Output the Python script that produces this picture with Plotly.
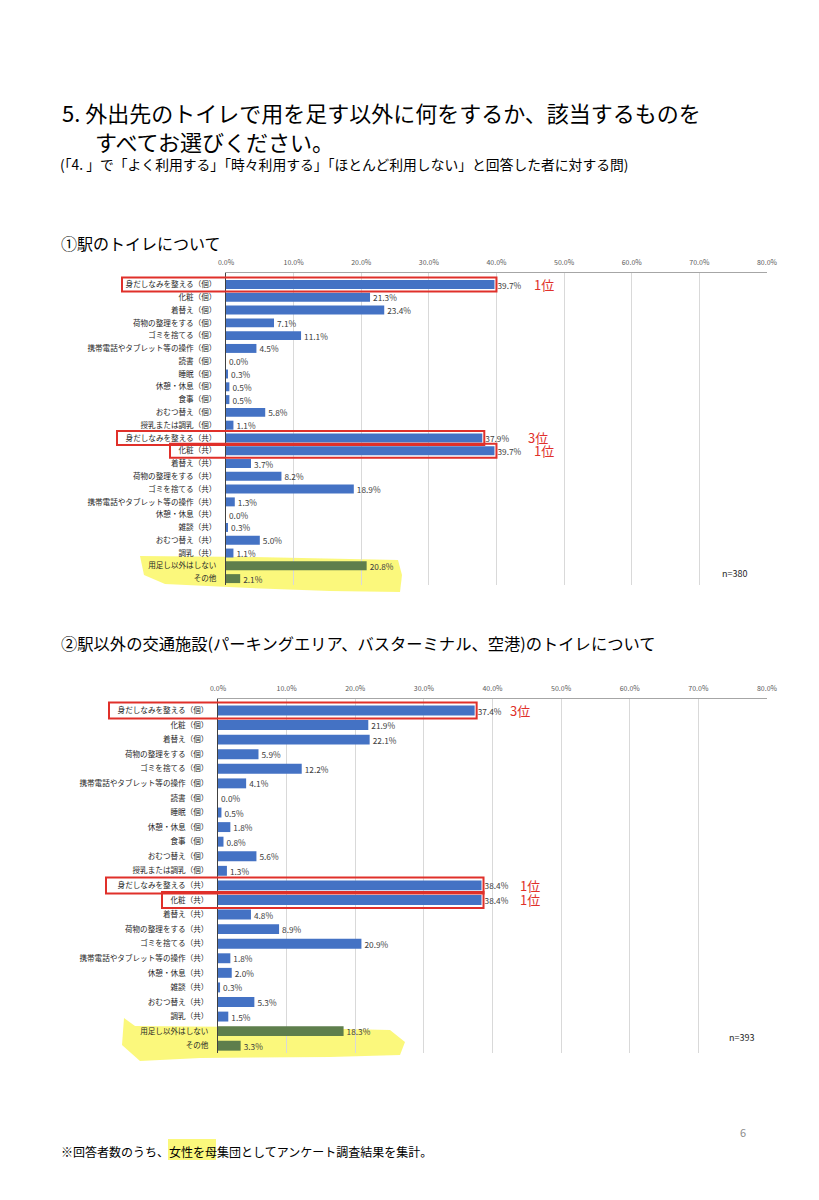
import plotly.graph_objects as go

# page is 819x1200; the page body has an 8px margin, so the figure is 803x1184
PAGE_OFF = 8
W, H = 803, 1184

# ---------------- data ----------------
cats1 = ["身だしなみを整える（個）", "化粧（個）", "着替え（個）", "荷物の整理をする（個）", "ゴミを捨てる（個）",
         "携帯電話やタブレット等の操作（個）", "読書（個）", "睡眠（個）", "休憩・休息（個）", "食事（個）",
         "おむつ替え（個）", "授乳または調乳（個）", "身だしなみを整える（共）", "化粧（共）", "着替え（共）",
         "荷物の整理をする（共）", "ゴミを捨てる（共）", "携帯電話やタブレット等の操作（共）", "休憩・休息（共）",
         "雑談（共）", "おむつ替え（共）", "調乳（共）", "用足し以外はしない", "その他"]
vals1 = [39.7, 21.3, 23.4, 7.1, 11.1, 4.5, 0.0, 0.3, 0.5, 0.5, 5.8, 1.1,
         37.9, 39.7, 3.7, 8.2, 18.9, 1.3, 0.0, 0.3, 5.0, 1.1, 20.8, 2.1]

cats2 = list(cats1)
vals2 = [37.4, 21.9, 22.1, 5.9, 12.2, 4.1, 0.0, 0.5, 1.8, 0.8, 5.6, 1.3,
         38.4, 38.4, 4.8, 8.9, 20.9, 1.8, 2.0, 0.3, 5.3, 1.5, 18.3, 3.3]

ranks1 = {0: "1位", 12: "3位", 13: "1位"}
ranks2 = {0: "3位", 12: "1位", 13: "1位"}
n1, n2 = "n=380", "n=393"
highlight_idx = [22, 23]

# ---------------- styles ----------------
BLUE = "#4472C4"
GREEN = "#5E7E4C"
RED = "#E0302A"
FONT = "Noto Sans CJK JP"

def PX(x):
    return (x - PAGE_OFF) / W

def PY(y):
    return 1 - (y - PAGE_OFF) / H

# chart geometry (page pixels)
c1 = dict(x0=226, x1=767, y0=273, y1=585)
c2 = dict(x0=218, x1=767, y0=699, y1=1053)
XMAX = 80

fig = go.Figure()

def add_chart(cats, vals, xa, ya, geom, ranks, rank_shift, boxes, bw):
    colors = [GREEN if i in highlight_idx else BLUE for i in range(len(cats))]
    fig.add_trace(go.Bar(
        x=vals, y=cats, orientation="h", xaxis=xa, yaxis=ya,
        marker=dict(color=colors, line=dict(width=0)), width=bw,
        text=[f"{v:.1f}%" for v in vals], textposition="outside", constraintext="none",
        textfont=dict(size=8.3, color="#404040"), cliponaxis=False,
        showlegend=False, hoverinfo="skip"))
    ax = "xaxis" if xa == "x" else "xaxis" + xa[1:]
    ay = "yaxis" if ya == "y" else "yaxis" + ya[1:]
    fig.layout[ax] = dict(
        domain=[PX(geom["x0"]), PX(geom["x1"])], range=[0, XMAX], dtick=10,
        side="top", anchor=ya, tickformat=".1f", ticksuffix="%", automargin=False,
        tickfont=dict(size=7, color="#595959"), showgrid=True, gridcolor="#D9D9D9",
        gridwidth=1, zeroline=False, showline=True, linecolor="#A6A6A6", linewidth=1,
        ticks="", ticklabelstandoff=4, fixedrange=True)
    fig.layout[ay] = dict(
        domain=[PY(geom["y1"]), PY(geom["y0"])], anchor=xa, automargin=False,
        autorange="reversed", type="category",
        tickfont=dict(size=7.6, color="#262626"), showline=True, linecolor="#404040",
        linewidth=1, showgrid=False, ticks="", ticklabelstandoff=7, fixedrange=True)
    scale = (geom["x1"] - geom["x0"]) / XMAX
    for i, t in ranks.items():
        fig.add_annotation(x=vals[i], y=cats[i], xref=xa, yref=ya, text=t,
                           showarrow=False, xanchor="left", xshift=rank_shift[i],
                           font=dict(size=13, color=RED))
    for i, left in boxes.items():
        right = geom["x0"] + vals[i] * scale + 2
        fig.add_shape(type="rect", xref="paper", yref=ya,
                      x0=PX(left), x1=PX(right), y0=i - 0.55, y1=i + 0.55,
                      line=dict(color=RED, width=2), fillcolor="rgba(0,0,0,0)", layer="above")

add_chart(cats1, vals1, "x", "y", c1, ranks1, {0: 38, 12: 44, 13: 38},
          {0: 122, 12: 117, 13: 170}, 0.7)
add_chart(cats2, vals2, "x2", "y2", c2, ranks2, {0: 33, 12: 36, 13: 36},
          {0: 109, 12: 106, 13: 162}, 0.68)

# yellow highlighter strokes
def path(points):
    d = ""
    for k, (x, y) in enumerate(points):
        d += ("M" if k == 0 else "L") + f"{PX(x):.5f},{PY(y):.5f} "
    return d + "Z"

YEL = "rgba(250,245,80,0.75)"
fig.add_shape(type="path", xref="paper", yref="paper", layer="below",
              path=path([(140, 556), (250, 557), (398, 560), (402, 575), (400, 592),
                         (330, 591), (250, 588), (165, 584), (144, 575)]),
              fillcolor=YEL, line=dict(width=0))
fig.add_shape(type="path", xref="paper", yref="paper", layer="below",
              path=path([(124, 1018), (135, 1026), (250, 1027), (390, 1030), (405, 1042),
                         (400, 1055), (330, 1057), (200, 1058), (140, 1061), (122, 1045)]),
              fillcolor=YEL, line=dict(width=0))
fig.add_shape(type="rect", xref="paper", yref="paper", layer="below",
              x0=PX(168), x1=PX(216), y0=PY(1160), y1=PY(1139),
              fillcolor=YEL, line=dict(width=0))

def text(x, y, s, size, color="#000000", anchor="left"):
    fig.add_annotation(x=PX(x), y=PY(y), xref="paper", yref="paper", text=s, showarrow=False,
                       xanchor=anchor, yanchor="middle", align="left",
                       font=dict(size=size, color=color, family=FONT))

text(60, 126, "5. 外出先のトイレで用を足す以外に何をするか、該当するものを<br>\u3000\u2002すべてお選びください。", 22)
text(58, 164, "(「4. 」で「よく利用する」「時々利用する」「ほとんど利用しない」と回答した者に対する問)", 13.8)
text(59, 243, "①駅のトイレについて", 16)
text(59, 643, "②駅以外の交通施設(パーキングエリア、バスターミナル、空港)のトイレについて", 16.3)
text(720, 573, n1, 9, "#262626")
text(727, 1037, n2, 9, "#262626")
text(738, 1132, "6", 11, "#8C8C8C")
text(59, 1151, "※回答者数のうち、女性を母集団としてアンケート調査結果を集計。", 12)

fig.update_layout(
    width=W, height=H, margin=dict(l=0, r=0, t=0, b=0, autoexpand=False),
    paper_bgcolor="white", plot_bgcolor="rgba(0,0,0,0)",
    font=dict(family=FONT, color="#262626"), bargap=0.3, showlegend=False)

fig.write_html("out.html")
